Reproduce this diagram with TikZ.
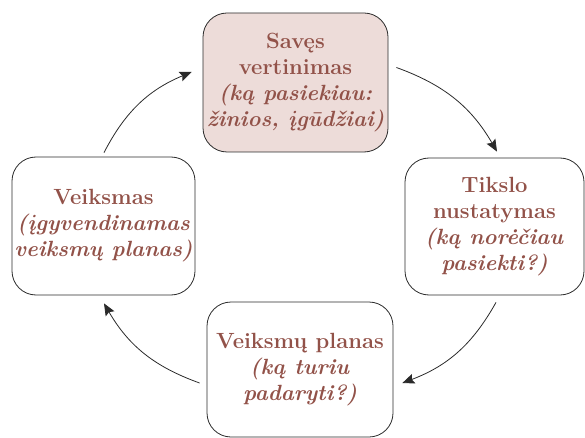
\documentclass[tikz,border=0pt]{standalone}
\usepackage{fontspec}
\usetikzlibrary{arrows.meta,calc}
\definecolor{txtbrown}{HTML}{925249}
\definecolor{boxpink}{HTML}{EDDCD9}
\definecolor{edgegray}{HTML}{2A2A2A}
\tikzset{
  stage/.style={draw=edgegray, line width=0.8pt, rounded corners=24pt,
    inner sep=0pt, align=center, text=txtbrown,
    font=\fontsize{22}{26}\selectfont\bfseries},
  flow/.style={draw=edgegray, line width=0.8pt, bend left=20,
    -{Stealth[length=12pt,width=10pt,inset=2pt]}}
}
\begin{document}
\begin{tikzpicture}[x=1pt,y=-1pt]
  \useasboundingbox (0,0) rectangle (585,438);

  \node[stage, fill=boxpink, minimum width=185pt, minimum height=139pt]
    (eval) at (295.5,82.5)
    {Savęs\\vertinimas\\\textit{(ką pasiekiau:}\\\textit{žinios, įgūdžiai)}};
  \node[stage, minimum width=179pt, minimum height=137pt]
    (goal) at (494.5,226.5)
    {Tikslo\\nustatymas\\\textit{(ką norėčiau}\\\textit{pasiekti?)}};
  \node[stage, minimum width=186pt, minimum height=135pt]
    (plan) at (300,369.5)
    {Veiksmų planas\\\textit{(ką turiu}\\\textit{padaryti?)}};
  \node[stage, minimum width=183pt, minimum height=138pt]
    (act) at (103.5,226)
    {Veiksmas\\\textit{(įgyvendinamas}\\\textit{veiksmų planas)}};

  \draw[flow] ($(eval.east)+(8,-15)$) to ($(goal.north)+(2.5,-6)$);
  \draw[flow] ($(goal.south)+(1.5,7)$) to ($(plan.east)+(9,13.5)$);
  \draw[flow] ($(plan.west)+(-7,13.5)$) to ($(act.south)+(0.5,8)$);
  \draw[flow] ($(act.north)+(0.5,-4)$) to ($(eval.west)+(-11,-10.5)$);
\end{tikzpicture}
\end{document}
